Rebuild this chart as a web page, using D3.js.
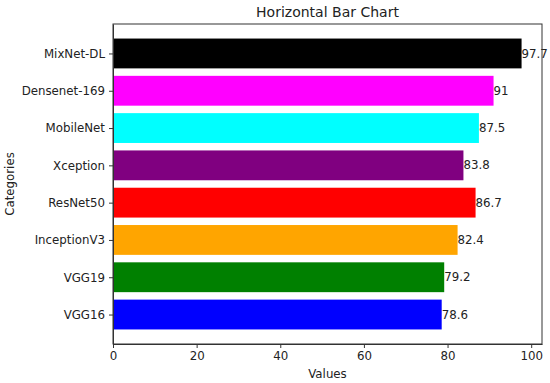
<!DOCTYPE html>
<html>
<head>
<meta charset="utf-8">
<script src="https://cdn.jsdelivr.net/npm/d3@7"></script>
<style>
  body { margin: 0; background: #fff; }
  text { font-family: "DejaVu Sans", sans-serif; fill: #222; }
  .axis text { font-size: 11.8px; }
  .axis path, .axis line { stroke: #333; }
</style>
</head>
<body>
<svg width="550" height="383"></svg>
<script>
const categories = ['VGG16', 'VGG19', 'InceptionV3', 'ResNet50', 'Xception', 'MobileNet', 'Densenet-169', 'MixNet-DL'];
const values = [78.6, 79.2, 82.4, 86.7, 83.8, 87.5, 91, 97.7];
const barColors = ['blue', 'green', 'orange', 'red', 'purple', 'cyan', 'magenta', 'black'];
const xTicks = [0, 20, 40, 60, 80, 100];

const margin = { left: 113, right: 8, top: 24, bottom: 39 };

const svg = d3.select('svg');
const width = +svg.attr('width');
const height = +svg.attr('height');
const innerWidth = width - margin.left - margin.right;
const innerHeight = height - margin.top - margin.bottom;

const g = svg.append('g')
    .attr('transform', `translate(${margin.left},${margin.top})`);

// matplotlib-like limits: 5% margin on x, bars of height 0.8
const xScale = d3.scaleLinear()
    .domain([0, d3.max(values) * 1.05])
    .range([0, innerWidth]);

const yScale = d3.scaleLinear()
    .domain([-0.79, categories.length - 1 + 0.79])
    .range([innerHeight, 0]);

const barH = yScale(0) - yScale(0.8);

g.selectAll('rect.bar')
    .data(values)
    .enter().append('rect')
    .attr('class', 'bar')
    .attr('x', 0)
    .attr('y', (d, i) => yScale(i + 0.4))
    .attr('width', d => xScale(d))
    .attr('height', barH)
    .attr('fill', (d, i) => barColors[i]);

g.selectAll('text.val')
    .data(values)
    .enter().append('text')
    .attr('class', 'val')
    .attr('x', d => xScale(d))
    .attr('y', (d, i) => yScale(i))
    .attr('dy', '0.35em')
    .style('font-size', '11.8px')
    .text(d => d);

const xAxisG = g.append('g')
    .attr('class', 'axis')
    .attr('transform', `translate(0,${innerHeight})`)
    .call(d3.axisBottom(xScale).tickValues(xTicks).tickSize(4).tickPadding(4).tickSizeOuter(0));

const yAxisG = g.append('g')
    .attr('class', 'axis')
    .call(d3.axisLeft(yScale)
        .tickValues(d3.range(categories.length))
        .tickFormat(i => categories[i])
        .tickSize(4).tickPadding(4).tickSizeOuter(0));

// frame (top and right spines)
g.append('rect')
    .attr('width', innerWidth)
    .attr('height', innerHeight)
    .attr('fill', 'none')
    .attr('stroke', '#333');

svg.append('text')
    .attr('x', margin.left + innerWidth / 2)
    .attr('y', 17)
    .attr('text-anchor', 'middle')
    .style('font-size', '14px')
    .text('Horizontal Bar Chart');

svg.append('text')
    .attr('x', margin.left + innerWidth / 2)
    .attr('y', 378)
    .attr('text-anchor', 'middle')
    .style('font-size', '11.8px')
    .text('Values');

svg.append('text')
    .attr('transform', `translate(14,${margin.top + innerHeight / 2}) rotate(-90)`)
    .attr('text-anchor', 'middle')
    .style('font-size', '11.8px')
    .text('Categories');
</script>
</body>
</html>
